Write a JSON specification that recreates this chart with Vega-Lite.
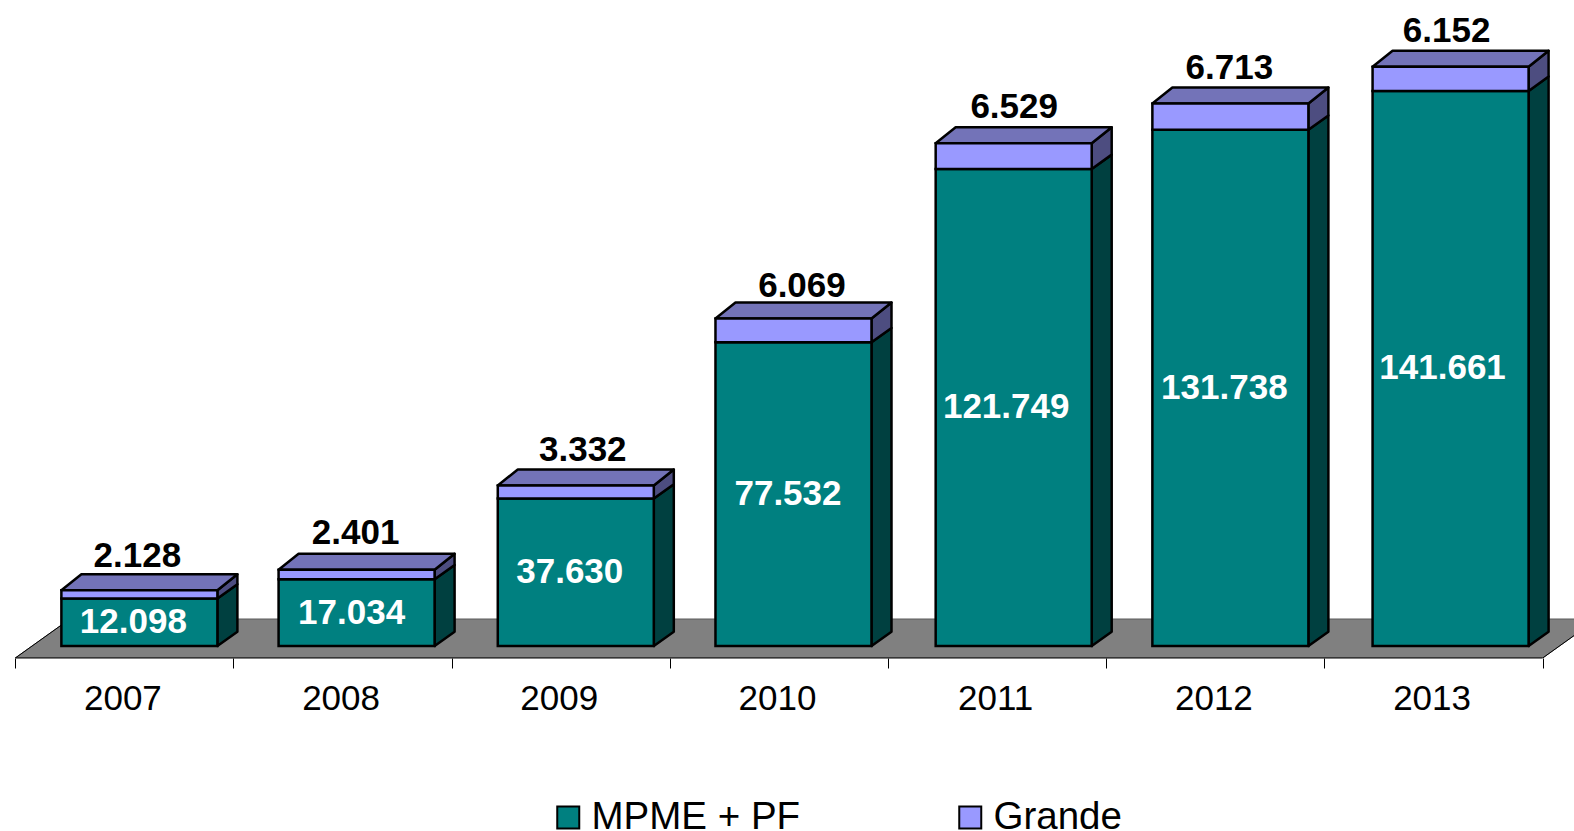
{"$schema":"https://vega.github.io/schema/vega-lite/v6.json","width":1574,"height":658,"autosize":{"type":"none"},"padding":{"left":0,"top":0,"right":0,"bottom":173},"background":"white","config":{"view":{"stroke":null},"font":"Liberation Sans"},
"data":{"values":[
{"year":2007,"series":"MPME + PF","value":12098},{"year":2007,"series":"Grande","value":2128},
{"year":2008,"series":"MPME + PF","value":17034},{"year":2008,"series":"Grande","value":2401},
{"year":2009,"series":"MPME + PF","value":37630},{"year":2009,"series":"Grande","value":3332},
{"year":2010,"series":"MPME + PF","value":77532},{"year":2010,"series":"Grande","value":6069},
{"year":2011,"series":"MPME + PF","value":121749},{"year":2011,"series":"Grande","value":6529},
{"year":2012,"series":"MPME + PF","value":131738},{"year":2012,"series":"Grande","value":6713},
{"year":2013,"series":"MPME + PF","value":141661},{"year":2013,"series":"Grande","value":6152}]},
"transform":[
{"stack":"value","groupby":["year"],"sort":[{"field":"series","order":"descending"}],"as":["y0","y1"]},
{"calculate":"{'2008':-1,'2010':-0.5,'2011':1.5,'2013':2}[datum.year]||0","as":"nudge"},
{"calculate":"datum.year-0.2888+datum.nudge/218.2","as":"xl"},{"calculate":"datum.year+0.4262+datum.nudge/218.2","as":"xr"},
{"calculate":"replace(format(datum.value,','),',','.')","as":"label"}],
"layer":[
{"data":{"values":[{"t":0},{"t":1}]},"transform":[{"calculate":"-3062+datum.t*9952","as":"fy"},{"calculate":"2006.5+datum.t*0.25","as":"xa"},{"calculate":"2013.5+datum.t*0.25","as":"xb"}],
 "mark":{"type":"area","orient":"horizontal","fill":"#808080","stroke":"#5a5a5a","strokeWidth":1,"clip":true},
 "encoding":{"y":{"field":"fy","type":"quantitative","stack":null,"scale":{"domain":[-3062,164859],"nice":false,"zero":false},"axis":null},
 "x":{"field":"xa","type":"quantitative","scale":{"domain":[2006.4299,2013.6435],"nice":false,"zero":false},
  "axis":{"values":[2006.5,2007,2007.5,2008,2008.5,2009,2009.5,2010,2010.5,2011,2011.5,2012,2012.5,2013,2013.5],"title":null,"domain":false,"grid":false,"tickColor":"black","tickWidth":1,"tickSize":10,"tickOpacity":{"condition":{"test":"datum.value%1==0","value":0},"value":1},"labelExpr":"datum.value%1==0?format(datum.value,'d'):''","labelFont":"Liberation Sans","labelFontSize":35,"labelColor":"black","labelPadding":13,"labelOffset":-2,"labelOverlap":false,"labelFlush":false,"labelBound":false}},
 "x2":{"field":"xb"}}},
{"data":{"values":[{"t":0},{"t":1}]},"transform":[{"calculate":"-3062+datum.t*9952","as":"fy"},{"calculate":"2006.5+datum.t*0.25","as":"xa"}],
 "mark":{"type":"line","stroke":"black","strokeWidth":1,"clip":true},"encoding":{"x":{"field":"xa","type":"quantitative"},"y":{"field":"fy","type":"quantitative"}}},
{"data":{"values":[{"t":0},{"t":1}]},"transform":[{"calculate":"-3062+datum.t*9952","as":"fy"},{"calculate":"2013.5+datum.t*0.25","as":"xb"}],
 "mark":{"type":"line","stroke":"black","strokeWidth":1,"clip":true},"encoding":{"x":{"field":"xb","type":"quantitative"},"y":{"field":"fy","type":"quantitative"}}},
{"data":{"values":[{"a":2006.5,"b":2013.5,"fy":-3062}]},"mark":{"type":"rule","stroke":"black","strokeWidth":1},"encoding":{"x":{"field":"a","type":"quantitative"},"x2":{"field":"b"},"y":{"field":"fy","type":"quantitative"}}},
{"transform":[{"calculate":"[0,1]","as":"t"},{"flatten":["t"]},{"calculate":"datum.xr+datum.t*0.0917","as":"sx"},{"calculate":"datum.y0+datum.t*3649","as":"sb"},{"calculate":"datum.y1+datum.t*(datum.series==='Grande'?4083:3649)","as":"st"}],
 "mark":{"type":"area","orient":"vertical","stroke":"black","strokeWidth":2.5,"strokeJoin":"round"},
 "encoding":{"x":{"field":"sx","type":"quantitative"},"y":{"field":"sb","type":"quantitative","stack":null},"y2":{"field":"st"},"detail":[{"field":"year"},{"field":"series"}],"fill":{"condition":{"test":"datum.series==='Grande'","value":"#4d4d80"},"value":"#004040"}}},
{"transform":[{"filter":"datum.series==='Grande'"},{"calculate":"[0,1]","as":"t"},{"flatten":["t"]},{"calculate":"datum.xl+datum.t*0.0917","as":"ta"},{"calculate":"datum.xr+datum.t*0.0917","as":"tb"},{"calculate":"datum.y1+datum.t*4083","as":"ty"}],
 "mark":{"type":"area","orient":"horizontal","fill":"#7373b8","stroke":"black","strokeWidth":2.5,"strokeJoin":"round"},
 "encoding":{"y":{"field":"ty","type":"quantitative","stack":null},"x":{"field":"ta","type":"quantitative"},"x2":{"field":"tb"},"detail":{"field":"year"}}},
{"mark":{"type":"rect","stroke":"black","strokeWidth":2.5},
 "encoding":{"x":{"field":"xl","type":"quantitative"},"x2":{"field":"xr"},"y":{"field":"y0","type":"quantitative"},"y2":{"field":"y1"},
 "color":{"field":"series","type":"nominal","scale":{"domain":["MPME + PF","Grande"],"range":["#008080","#9999ff"]},
  "legend":{"orient":"none","legendX":549,"legendY":798,"direction":"horizontal","title":null,"columns":2,"columnPadding":150,"symbolType":"square","symbolSize":484,"symbolStrokeColor":"black","symbolStrokeWidth":2,"symbolOpacity":1,"labelFont":"Liberation Sans","labelFontSize":38.5,"labelColor":"black","labelOffset":4,"labelLimit":400}}}},
{"transform":[{"filter":"datum.series!=='Grande'"},{"calculate":"datum.year+0.0412","as":"lx"},{"calculate":"(datum.y0+datum.y1)/2","as":"ly"}],
 "mark":{"type":"text","font":"Liberation Sans","fontWeight":"bold","fontSize":35,"fill":"white","baseline":"middle","align":"center"},
 "encoding":{"x":{"field":"lx","type":"quantitative"},"y":{"field":"ly","type":"quantitative"},"text":{"field":"label"}}},
{"transform":[{"filter":"datum.series==='Grande'"},{"calculate":"datum.year+0.0595+({'2009':9,'2010':10,'2011':4,'2012':1}[datum.year]||0)/218.2","as":"lx"},{"calculate":"datum.y1+4517-255.2*({'2007':2,'2008':-1,'2009':1,'2010':4,'2012':1}[datum.year]||0)","as":"ly"}],
 "mark":{"type":"text","font":"Liberation Sans","fontWeight":"bold","fontSize":35,"fill":"black","baseline":"alphabetic","align":"center","dy":-7.5},
 "encoding":{"x":{"field":"lx","type":"quantitative"},"y":{"field":"ly","type":"quantitative"},"text":{"field":"label"}}}
]}
